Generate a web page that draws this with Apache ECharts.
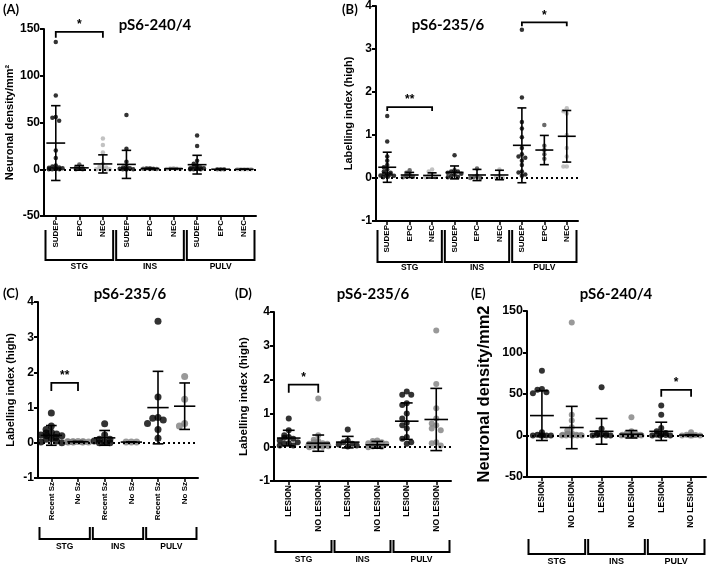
<!DOCTYPE html>
<html><head><meta charset="utf-8">
<script src="https://cdn.jsdelivr.net/npm/echarts@6/dist/echarts.min.js"></script>
<style>html,body{margin:0;padding:0;background:#fff}#c{width:709px;height:569px}</style>
</head><body><div id="c"></div><script>
// ---------------- DATA ----------------
const regions = ['STG', 'INS', 'PULV'];
const catsAB = ['SUDEP', 'EPC', 'NEC', 'SUDEP', 'EPC', 'NEC', 'SUDEP', 'EPC', 'NEC'];
const catsC = ['Recent Sz', 'No Sz', 'Recent Sz', 'No Sz', 'Recent Sz', 'No Sz'];
const catsDE = ['LESION', 'NO LESION', 'LESION', 'NO LESION', 'LESION', 'NO LESION'];
const spans9 = [[0, 2], [3, 5], [6, 8]];
const spans6 = [[0, 1], [2, 3], [4, 5]];
const ticksDensity = [-50, 0, 50, 100, 150];
const ticksIndex = [-1, 0, 1, 2, 3, 4];

// Panel A: pS6-240/4 neuronal density
const valsA = [
  [136, 79, 56, 55, 52, 20, 12, 4, 3, 2, 1.5, 1, 0.5, 0.3, 0, 0, 0],
  [5, 2, 1, 0.5, 0, 0],
  [33, 26, 18, 6, 3, 2, 1, 0.5, 0, 0, 0],
  [58, 22, 8, 3, 2, 1, 0.5, 0, 0, 0, 0],
  [1, 1, 0.5, 0.5, 0.3, 0.2],
  [1, 0.8, 0.5, 0.3, 0.2],
  [36, 25, 9, 6, 4, 3, 2, 1, 1, 0.5, 0.2, 0, 0, 0],
  [0, 0, 0],
  [0, 0, 0, 0, 0]
];
const meanA = [28, 1.5, 5.7, 5.2, 0.7, 0.6, 4.9, 0, 0];
const sdA = [40, 2.5, 9.7, 15, 0.4, 0.3, 10, 0, 0];
const sigA = [[0, 2, 147]];
const sigTextA = ['*'];

// Panel B: pS6-235/6 labelling index
const valsB = [
  [1.44, 0.85, 0.5, 0.4, 0.3, 0.25, 0.2, 0.15, 0.12, 0.1, 0.1, 0.08, 0.06, 0.05, 0.05, 0.03, 0.02],
  [0.18, 0.12, 0.08, 0.05, 0.03, 0.02],
  [0.2, 0.15, 0.08, 0.05, 0.02, 0.02],
  [0.53, 0.18, 0.15, 0.15, 0.12, 0.1, 0.08, 0.05, 0.03, 0.02],
  [0.22, 0.05, 0.02, 0, 0],
  [0.2, 0.05, 0.02, 0],
  [3.45, 1.87, 1.3, 1.15, 0.95, 0.7, 0.55, 0.5, 0.47, 0.4, 0.3, 0.15, 0.13, 0.08, 0.05],
  [1.23, 0.75, 0.65, 0.55, 0.45],
  [1.62, 1.55, 1.5, 1.0, 0.7, 0.5, 0.27, 0.27]
];
const meanB = [0.25, 0.07, 0.06, 0.13, 0.07, 0.07, 0.76, 0.65, 0.97];
const sdB = [0.35, 0.06, 0.06, 0.15, 0.13, 0.11, 0.87, 0.34, 0.6];
const sigB = [[0, 2, 1.65], [6, 8, 3.62]];
const sigTextB = ['**', '*'];

// Panel C: pS6-235/6 recent seizures
const valsC = [
  [0.85, 0.48, 0.38, 0.3, 0.28, 0.25, 0.22, 0.2, 0.2, 0.15, 0.12, 0.1, 0.05, 0.02, 0],
  [0.04, 0.03, 0.03, 0.03, 0.02, 0.02, 0.02, 0.02],
  [0.54, 0.22, 0.1, 0.1, 0.05, 0.02, 0, 0],
  [0.02, 0.02, 0.02],
  [3.45, 1.3, 0.72, 0.7, 0.65, 0.55, 0.38, 0.13],
  [1.88, 1.24, 0.55, 0.48]
];
const meanC = [0.21, 0.03, 0.14, 0.02, 1.0, 1.04];
const sdC = [0.28, 0.01, 0.21, 0.005, 1.03, 0.66];
const sigC = [[0, 1, 1.7]];
const sigTextC = ['**'];

// Panel D: pS6-235/6 lesion
const valsD = [
  [0.85, 0.5, 0.35, 0.3, 0.28, 0.25, 0.2, 0.15, 0.12, 0.1, 0.05, 0.05],
  [1.44, 0.35, 0.22, 0.18, 0.15, 0.12, 0.1, 0.1, 0.08, 0.06, 0.05, 0.05, 0.04, 0.03, 0.02, 0.02, 0.01, 0],
  [0.52, 0.2, 0.15, 0.1, 0.08, 0.05, 0.02],
  [0.2, 0.18, 0.15, 0.12, 0.1, 0.08, 0.05, 0.05, 0.03, 0.02, 0.01, 0],
  [1.65, 1.55, 1.55, 1.3, 1.25, 1.0, 0.85, 0.72, 0.65, 0.55, 0.3, 0.25, 0.15, 0.1],
  [3.45, 1.87, 1.15, 0.85, 0.7, 0.65, 0.55, 0.5, 0.15, 0.12, 0.05]
];
const meanD = [0.27, 0.12, 0.15, 0.07, 0.77, 0.82];
const sdD = [0.23, 0.24, 0.17, 0.1, 0.54, 0.92];
const sigD = [[0, 1, 1.85]];
const sigTextD = ['*'];

// Panel E: pS6-240/4 lesion
const valsE = [
  [78, 56, 55, 52, 51, 4, 1, 0, 0, 0, 0, 0],
  [136, 25, 18, 10, 6, 3, 2, 1, 1, 0.5, 0.3, 0, 0, 0, 0, 0],
  [58, 8, 3, 2, 1, 0.5, 0, 0, 0],
  [22, 5, 3, 2, 1, 1, 0.5, 0.3, 0, 0, 0, 0],
  [36, 25, 9, 5, 3, 2, 1, 0.5, 0, 0, 0],
  [4, 1, 0.5, 0, 0, 0, 0]
];
const meanE = [24, 9.6, 5, 1.5, 5, 0.5];
const sdE = [30, 25.5, 15.5, 4.5, 11, 0.5];
const sigE = [[4, 5, 55]];
const sigTextE = ['*'];

// ---------------- LAYOUT / STYLE ----------------
const FONT = 'Liberation Sans';
const TFONT = 'Lato';
const col3 = ['#000000', '#444444', '#b3b3b3'];
const col2 = ['#000000', '#808080'];

const panels = [
  { cats: catsAB, vals: valsA, mean: meanA, sd: sdA, sig: sigA, sigText: sigTextA, spans: spans9, ticks: ticksDensity,
    yName: 'Neuronal density/mm²', grid: { left: 44, top: 29, width: 212, height: 187 }, colors: col3, sym: 4.5,
    nameGap: 29, nameSize: 11, tickSize: 12, catSize: 8, brk: [14, 44, 51], brkSize: 8.5, sigDrop: 6,
    title: ['pS6-240/4', 155, 25], label: ['(A)', 3, 10] },
  { cats: catsAB, vals: valsB, mean: meanB, sd: sdB, sig: sigB, sigText: sigTextB, spans: spans9, ticks: ticksIndex,
    yName: 'Labelling index (high)', grid: { left: 376, top: 5, width: 202, height: 216 }, colors: col3, sym: 4.5,
    nameGap: 22, nameSize: 11, tickSize: 12, catSize: 8, brk: [9, 41, 47], brkSize: 8.5, sigDrop: 4,
    title: ['pS6-235/6', 448, 25], label: ['(B)', 342, 10] },
  { cats: catsC, vals: valsC, mean: meanC, sd: sdC, sig: sigC, sigText: sigTextC, spans: spans6, ticks: ticksIndex,
    yName: 'Labelling index (high)', grid: { left: 38, top: 302, width: 160, height: 176 }, colors: col2, sym: 7,
    nameGap: 22, nameSize: 11, tickSize: 12, catSize: 8, brk: [49, 61, 69], brkSize: 8.5, sigDrop: 8,
    title: ['pS6-235/6', 130, 294], label: ['(C)', 3, 294] },
  { cats: catsDE, vals: valsD, mean: meanD, sd: sdD, sig: sigD, sigText: sigTextD, spans: spans6, ticks: ticksIndex,
    yName: 'Labelling index (high)', grid: { left: 274, top: 312, width: 177, height: 169 }, colors: col2, sym: 6,
    nameGap: 24, nameSize: 11.5, tickSize: 12, catSize: 8.5, brk: [59, 71, 79], brkSize: 8.5, sigDrop: 8,
    title: ['pS6-235/6', 373, 294], label: ['(D)', 235, 294] },
  { cats: catsDE, vals: valsE, mean: meanE, sd: sdE, sig: sigE, sigText: sigTextE, spans: spans6, ticks: ticksDensity,
    yName: 'Neuronal density/mm2', grid: { left: 527, top: 311, width: 179, height: 166 }, colors: col2, sym: 6,
    nameGap: 34, nameSize: 16.5, tickSize: 12.5, catSize: 8.5, brk: [62, 77, 85], brkSize: 9, sigDrop: 7,
    title: ['pS6-240/4', 616, 294], label: ['(E)', 471, 294] }
];

// deterministic beeswarm-style horizontal spreading of overlapping points
function spread(vals, range, heightPx, symPx, maxOff) {
  const order = vals.map((v, i) => i).sort((a, b) => vals[b] - vals[a]);
  const off = new Array(vals.length).fill(0);
  const thr = range * (symPx * 0.9) / heightPx;
  let anchor = null, k = 0;
  order.forEach(i => {
    if (anchor === null || Math.abs(vals[i] - anchor) > thr) { anchor = vals[i]; k = 0; }
    const n = Math.ceil(k / 2) * (k % 2 ? -1 : 1);
    let o = n * symPx * 0.75;
    if (Math.abs(o) > maxOff) o = Math.sign(o) * (Math.abs(o) % maxOff);
    off[i] = o;
    k++;
  });
  return off;
}

const option = { animation: false, backgroundColor: '#fff', grid: [], xAxis: [], yAxis: [], series: [], graphic: [] };

panels.forEach((p, g) => {
  const yMin = p.ticks[0], yMax = p.ticks[p.ticks.length - 1];
  option.grid.push(Object.assign({ containLabel: false }, p.grid));
  option.xAxis.push({
    type: 'category', gridIndex: g, data: p.cats, boundaryGap: true,
    axisLine: { show: true, onZero: false, lineStyle: { color: '#000', width: 2 } },
    axisTick: { show: true, alignWithLabel: true, length: 4, lineStyle: { color: '#000', width: 1.5 } },
    axisLabel: { rotate: 90, margin: 4, interval: 0, fontSize: p.catSize, fontWeight: 'bold', color: '#000', fontFamily: FONT },
    splitLine: { show: false }
  });
  option.yAxis.push({
    type: 'value', gridIndex: g, min: yMin, max: yMax, interval: p.ticks[1] - p.ticks[0],
    name: p.yName, nameLocation: 'middle', nameGap: p.nameGap, nameRotate: 90,
    nameTextStyle: { fontSize: p.nameSize, fontWeight: 'bold', color: '#000', fontFamily: FONT },
    axisLine: { show: true, lineStyle: { color: '#000', width: 2 } },
    axisTick: { show: true, length: 4, lineStyle: { color: '#000', width: 2 } },
    axisLabel: { margin: 4, fontSize: p.tickSize, fontWeight: 'bold', color: '#000', fontFamily: FONT },
    splitLine: { show: false }
  });

  const bandPx = p.grid.width / p.cats.length;
  const pts = [];
  p.vals.forEach((arr, i) => {
    const off = spread(arr, yMax - yMin, p.grid.height, p.sym, bandPx * 0.42);
    arr.forEach((v, j) => pts.push({ value: [i, v], symbolOffset: [off[j], 0], itemStyle: { color: p.colors[i % p.colors.length] } }));
  });
  option.series.push({
    type: 'scatter', xAxisIndex: g, yAxisIndex: g, symbol: 'circle', symbolSize: p.sym, data: pts, z: 3,
    markLine: { silent: true, symbol: 'none', label: { show: false }, animation: false,
      lineStyle: { type: [2, 3], color: '#000', width: 1.8 }, data: [{ yAxis: 0 }] }
  });

  // mean ± SD
  option.series.push({
    type: 'custom', xAxisIndex: g, yAxisIndex: g, z: 5, clip: false,
    data: p.mean.map((m, i) => [i, m, p.sd[i]]),
    encode: { x: 0, y: 1 },
    renderItem: (params, api) => {
      const c = api.value(0), m = api.value(1), s = api.value(2);
      const pm = api.coord([c, m]), pt = api.coord([c, m + s]), pb = api.coord([c, m - s]);
      const bw = api.size([1, 0])[0];
      const hw = bw * 0.4, cw = bw * 0.2;
      const st = { stroke: '#000', lineWidth: 1.6 };
      return { type: 'group', children: [
        { type: 'line', shape: { x1: pm[0] - hw, y1: pm[1], x2: pm[0] + hw, y2: pm[1] }, style: st },
        { type: 'line', shape: { x1: pm[0], y1: pt[1], x2: pm[0], y2: pb[1] }, style: st },
        { type: 'line', shape: { x1: pm[0] - cw, y1: pt[1], x2: pm[0] + cw, y2: pt[1] }, style: st },
        { type: 'line', shape: { x1: pm[0] - cw, y1: pb[1], x2: pm[0] + cw, y2: pb[1] }, style: st }
      ] };
    }
  });

  // significance brackets
  option.series.push({
    type: 'custom', xAxisIndex: g, yAxisIndex: g, z: 6, clip: false,
    data: p.sig, encode: { x: 0, y: 2 },
    renderItem: (params, api) => {
      const a = api.coord([api.value(0), api.value(2)]);
      const b = api.coord([api.value(1), api.value(2)]);
      const st = { stroke: '#000', lineWidth: 1.8 };
      return { type: 'group', children: [
        { type: 'polyline', shape: { points: [[a[0], a[1] + p.sigDrop], [a[0], a[1]], [b[0], b[1]], [b[0], b[1] + p.sigDrop]] }, style: Object.assign({ fill: null }, st) },
        { type: 'text', x: (a[0] + b[0]) / 2, y: a[1] - 1,
          style: { text: p.sigText[params.dataIndex], align: 'center', verticalAlign: 'bottom', textAlign: 'center', textVerticalAlign: 'bottom',
            font: 'bold 12px "' + FONT + '"', fill: '#000' } }
      ] };
    }
  });

  // region group brackets below the axis
  option.series.push({
    type: 'custom', xAxisIndex: g, yAxisIndex: g, z: 6, clip: false,
    data: p.spans, encode: { x: 0, y: 1 },
    renderItem: (params, api) => {
      const a = api.coord([api.value(0), yMin]);
      const b = api.coord([api.value(1), yMin]);
      const bw = api.size([1, 0])[0];
      const x1 = a[0] - bw / 2 + 1.5, x2 = b[0] + bw / 2 - 1.5, y0 = a[1];
      const st = { stroke: '#000', lineWidth: 2, fill: null };
      return { type: 'group', children: [
        { type: 'polyline', shape: { points: [[x1, y0 + p.brk[0]], [x1, y0 + p.brk[1]], [x2, y0 + p.brk[1]], [x2, y0 + p.brk[0]]] }, style: st },
        { type: 'text', x: (x1 + x2) / 2, y: y0 + p.brk[2],
          style: { text: regions[params.dataIndex], align: 'center', verticalAlign: 'middle', textAlign: 'center', textVerticalAlign: 'middle',
            font: 'bold ' + p.brkSize + 'px "' + FONT + '"', fill: '#000' } }
      ] };
    }
  });

  option.graphic.push({ type: 'text', x: p.title[1], y: p.title[2],
    style: { text: p.title[0], align: 'center', verticalAlign: 'middle', textAlign: 'center', textVerticalAlign: 'middle', font: 'bold 15px "' + TFONT + '"', fill: '#000' } });
  option.graphic.push({ type: 'text', x: p.label[1], y: p.label[2],
    style: { text: p.label[0], align: 'left', verticalAlign: 'middle', textAlign: 'left', textVerticalAlign: 'middle', font: 'bold 13px "' + TFONT + '"', fill: '#000' } });
});

const chart = echarts.init(document.getElementById('c'), null, { renderer: 'canvas' });
chart.setOption(option);
</script></body></html>
